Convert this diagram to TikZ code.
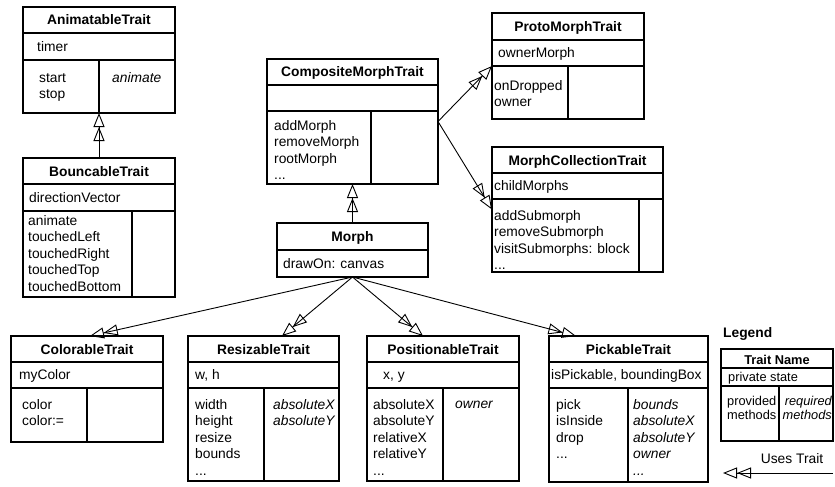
\documentclass[tikz,border=0pt]{standalone}
\usepackage{fontspec}
\setmainfont{Liberation Sans}
\usetikzlibrary{arrows.meta}
\tikzset{
  tbox/.style={draw, line width=1.2pt, inner sep=0pt, outer sep=0pt, rectangle},
  tline/.style={line width=1.2pt},
  txt/.style={anchor=north west, inner sep=0pt, align=left, font=\fontsize{13.8}{16.5}\selectfont},
  txti/.style={txt, font=\fontsize{13.8}{16.5}\selectfont\itshape},
  ttl/.style={anchor=base, inner sep=0pt, font=\fontsize{13.8}{16.5}\selectfont\bfseries},
  lgtxt/.style={inner sep=0pt, align=left, font=\fontsize{12.8}{14.5}\selectfont},
  uses/.style={line width=0.9pt, -{Triangle[open,length=14pt,width=11pt]Triangle[open,length=14pt,width=11pt]}}
}
\newcommand\TBox[8]{%
  \node[tbox, minimum width={#4-#2}, minimum height={#5-#3}] (#1) at ({(#2+#4)/2},{(#3+#5)/2}) {};
  \draw[tline] (#2,#6) -- (#4,#6);
  \draw[tline] (#2,#7) -- (#4,#7);
  \draw[tline] (#8,#7) -- (#8,#5);
}
\newcommand\TL[4]{\node[txt] (#1) at (#2,{#3-11.55}) {\strut#4};}
\newcommand\TI[4]{\node[txti] (#1) at (#2,{#3-11.55}) {\strut#4};}
\begin{document}
\begin{tikzpicture}[x=1pt,y=-1pt]
\useasboundingbox[fill=white] (0,0) rectangle (835,487);

% boxes
\TBox{anim}{23}{7}{175}{113}{33}{60}{99}
\TBox{bounc}{23}{158}{175}{297}{184}{211}{132}
\TBox{comp}{267}{59}{438}{184}{85}{111}{371}
\TBox{proto}{492}{13}{644}{119}{40}{66}{568}
\TBox{coll}{492}{147}{663}{272}{173}{199}{639}
\TBox{col}{11}{336}{163}{442}{362}{388}{87}
\TBox{res}{188}{336}{339}{481}{362}{388}{264}
\TBox{pos}{367}{336}{519}{481}{362}{388}{443}
\TBox{pick}{549}{336}{708}{482}{362}{388}{628}
\TBox{leg}{721}{349}{833}{441}{368}{386}{779}
\node[tbox, minimum width=151, minimum height=54] (morph) at (352.5,250) {};
\draw[tline] (277,250) -- (428,250);

% titles
\node[ttl] (animT) at (99,25) {AnimatableTrait};
\node[ttl] (bouncT) at (99,176) {BouncableTrait};
\node[ttl] (compT) at (352.5,77) {CompositeMorphTrait};
\node[ttl] (protoT) at (568,31.5) {ProtoMorphTrait};
\node[ttl] (collT) at (577.5,165.5) {MorphCollectionTrait};
\node[ttl] (morphT) at (352.5,241.5) {Morph};
\node[ttl] (colT) at (87,354) {ColorableTrait};
\node[ttl] (resT) at (263.5,354) {ResizableTrait};
\node[ttl] (posT) at (443,354) {PositionableTrait};
\node[ttl] (pickT) at (628.5,354) {PickableTrait};

% state
\TL{animS}{37}{51}{timer}
\TL{bouncS}{29}{202}{directionVector}
\TL{protoS}{498}{57.5}{ownerMorph}
\TL{collS}{494}{190.5}{childMorphs}
\TL{morphS}{283}{268}{drawOn: canvas}
\TL{colS}{19}{379.5}{myColor}
\TL{resS}{195}{379.5}{w, h}
\TL{posS}{383}{379.5}{x, y}
\TL{pickS}{551}{379.5}{isPickable, boundingBox}

% provided methods
\TL{animP}{39}{82}{start\\stop}
\TL{bouncP}{28}{225}{animate\\touchedLeft\\touchedRight\\touchedTop\\touchedBottom}
\TL{compP}{274}{130}{addMorph\\removeMorph\\rootMorph\\...}
\TL{protoP}{494}{90}{onDropped\\owner}
\TL{collP}{494}{220}{addSubmorph\\removeSubmorph\\visitSubmorphs: block\\...}
\TL{colP}{22}{409}{color\\color:=}
\TL{resP}{195}{409}{width\\height\\resize\\bounds\\...}
\TL{posP}{373}{409}{absoluteX\\absoluteY\\relativeX\\relativeY\\...}
\TL{pickP}{556}{409}{pick\\isInside\\drop\\...}

% required methods
\TI{animR}{112}{82}{animate}
\TI{resR}{273}{409}{absoluteX\\absoluteY}
\TI{posR}{455}{408}{owner}
\TI{pickR}{633}{409}{bounds\\absoluteX\\absoluteY\\owner\\...}

% legend
\node[anchor=base west, inner sep=0pt, font=\fontsize{13.8}{16.5}\selectfont\bfseries] (legT) at (723,337) {Legend};
\node[anchor=base, inner sep=0pt, font=\fontsize{12.8}{14.5}\selectfont\bfseries] (legN) at (777,364) {Trait Name};
\node[lgtxt, anchor=base west] (legS) at (728,381.5) {private state};
\node[lgtxt, anchor=north west] (legP) at (727,{405-10.15}) {\strut provided\\methods};
\node[lgtxt, anchor=north east, align=right, font=\fontsize{12.8}{14.5}\selectfont\itshape] (legR) at (832,{405-10.15}) {\strut required\\methods};
\node[anchor=base, inner sep=0pt, font=\fontsize{13.8}{16.5}\selectfont] (legU) at (792,463) {Uses Trait};
\coordinate (lgA) at (833,473);
\coordinate (lgB) at (723,473);

% connectors
\draw[uses] (bounc.north) -- (anim.south);
\draw[uses] (morph.north) -- (comp.south);
\draw[uses] (comp.east) -- (proto.west);
\draw[uses] (comp.east) -- (coll.west);
\draw[uses] (morph.south) -- ([xshift=79pt]col.north west);
\draw[uses] (morph.south) -- ([xshift=94pt]res.north west);
\draw[uses] (morph.south) -- ([xshift=56pt]pos.north west);
\draw[uses] (morph.south) -- ([xshift=27pt]pick.north west);
\draw[uses] (lgA) -- (lgB);
\end{tikzpicture}
\end{document}
